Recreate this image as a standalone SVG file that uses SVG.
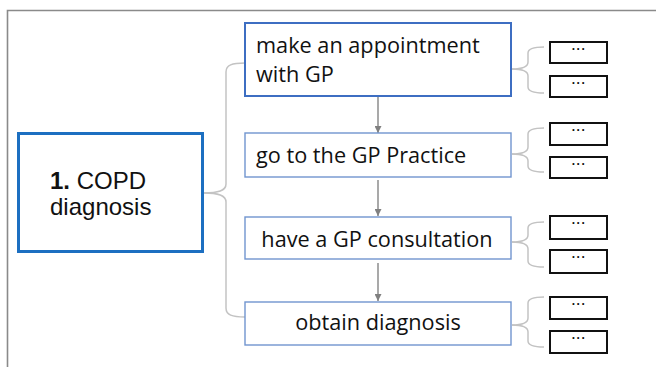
<svg xmlns="http://www.w3.org/2000/svg" width="656" height="367" viewBox="0 0 656 367">
<defs>
<marker id="arr" viewBox="0 0 10 10" refX="10" refY="5" markerWidth="7" markerHeight="7" markerUnits="userSpaceOnUse" orient="auto">
<path d="M0,0 L10,5 L0,10 Z" fill="#808080"/>
</marker>
<style>
.frame{fill:none;stroke:#8a8a8a;stroke-width:1.6}
.main{fill:#fff;stroke:#1c6fc1;stroke-width:3}
.step1{fill:#fff;stroke:#3d6ec2;stroke-width:2}
.step{fill:#fff;stroke:#7195cf;stroke-width:1.4}
.sub{fill:#fff;stroke:#111;stroke-width:2}
.brace{fill:none;stroke:#c3c3c3;stroke-width:1.5}
.arrow{fill:none;stroke:#8c8c8c;stroke-width:1.5}
.mt{font-family:"Liberation Sans",Arial,sans-serif;font-size:24px;fill:#111}
.st{font-family:"Open Sans","Noto Sans",sans-serif;font-size:21.7px;fill:#111}
.dots{font-family:"Liberation Sans",Arial,sans-serif;font-size:12px;font-weight:bold;fill:#111;text-anchor:middle;letter-spacing:1.5px}
</style>
</defs>
<rect width="656" height="367" fill="#fff"/>
<path class="frame" d="M7.5,367 L7.5,10.5 L656,10.5"/>

<g id="connectors">
<path class="brace" d="M204,193 C218,193 226,191 226,184 L226,72 C226,65 232,63 245,63"/>
<path class="brace" d="M204,193 C218,193 226,195 226,202 L226,308 C226,315 232,317 245,317"/>
<path class="brace" d="M512,69 C522,69 528,67 528,62 L528,53 C528,49 532,47 544,47"/>
<path class="brace" d="M512,69 C522,69 528,71 528,76 L528,87 C528,91 532,93 544,93"/>
<path class="brace" d="M512,154 C522,154 528,152 528,147 L528,134 C528,130 532,128 544,128"/>
<path class="brace" d="M512,154 C522,154 528,156 528,161 L528,166 C528,170 532,172 544,172"/>
<path class="brace" d="M512,242 C522,242 528,240 528,235 L528,228 C528,224 532,222 544,222"/>
<path class="brace" d="M512,242 C522,242 528,244 528,249 L528,261 C528,265 532,267 544,267"/>
<path class="brace" d="M512,325 C522,325 528,323 528,318 L528,303 C528,299 532,297 544,297"/>
<path class="brace" d="M512,325 C522,325 528,327 528,332 L528,341 C528,345 532,347 544,347"/>
<line class="arrow" x1="378" y1="97" x2="378" y2="133" marker-end="url(#arr)"/>
<line class="arrow" x1="378" y1="180" x2="378" y2="216" marker-end="url(#arr)"/>
<line class="arrow" x1="378" y1="263" x2="378" y2="301" marker-end="url(#arr)"/>
</g>

<g id="main">
<rect class="main" x="18.5" y="133.5" width="184" height="118"/>
<text class="mt" x="50" y="189"><tspan font-weight="bold">1.</tspan> COPD</text>
<text class="mt" x="50" y="215">diagnosis</text>
</g>

<g id="step1">
<rect class="step1" x="245" y="23" width="266" height="73"/>
<text class="st" x="256" y="53">make an appointment</text>
<text class="st" x="256" y="82">with GP</text>
</g>
<g id="step2">
<rect class="step" x="245" y="133" width="266" height="44"/>
<text class="st" x="256" y="163">go to the GP Practice</text>
</g>
<g id="step3">
<rect class="step" x="245" y="217" width="266" height="42"/>
<text class="st" x="377" y="247" text-anchor="middle">have a GP consultation</text>
</g>
<g id="step4">
<rect class="step" x="245" y="302" width="266" height="43"/>
<text class="st" x="378" y="330" text-anchor="middle">obtain diagnosis</text>
</g>

<g id="sub1a"><rect class="sub" x="550" y="42" width="57" height="21"/><text class="dots" x="579" y="50">...</text></g>
<g id="sub1b"><rect class="sub" x="550" y="76" width="57" height="21"/><text class="dots" x="579" y="84">...</text></g>
<g id="sub2a"><rect class="sub" x="550" y="123" width="57" height="22"/><text class="dots" x="579" y="131">...</text></g>
<g id="sub2b"><rect class="sub" x="550" y="157" width="57" height="21"/><text class="dots" x="579" y="165">...</text></g>
<g id="sub3a"><rect class="sub" x="550" y="216" width="57" height="23"/><text class="dots" x="579" y="224">...</text></g>
<g id="sub3b"><rect class="sub" x="550" y="250" width="57" height="23"/><text class="dots" x="579" y="258">...</text></g>
<g id="sub4a"><rect class="sub" x="550" y="297" width="57" height="22"/><text class="dots" x="579" y="305">...</text></g>
<g id="sub4b"><rect class="sub" x="550" y="331" width="57" height="22"/><text class="dots" x="579" y="339">...</text></g>
</svg>
